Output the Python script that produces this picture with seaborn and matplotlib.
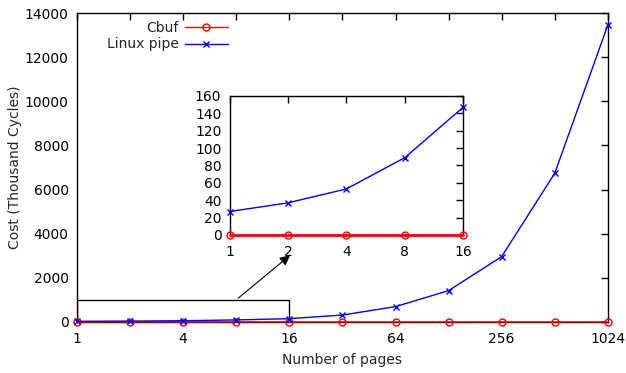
import numpy as np
import pandas as pd
import matplotlib
matplotlib.use("Agg")
import matplotlib.pyplot as plt
import seaborn as sns
from matplotlib.ticker import FixedLocator, FixedFormatter, NullLocator
from matplotlib.patches import Rectangle

# data (thousand cycles)
pages = [1, 2, 4, 8, 16, 32, 64, 128, 256, 512, 1024]
cbuf = [0.3, 0.3, 0.3, 0.3, 0.3, 0.4, 0.4, 0.5, 0.6, 0.8, 1.0]
linux_pipe = [27, 37, 53, 89, 147, 310, 693, 1418, 2960, 6740, 13460]

main_ticks = [1, 2, 4, 8, 16, 32, 64, 128, 256, 512, 1024]
main_labels = ["1", "", "4", "", "16", "", "64", "", "256", "", "1024"]
inset_ticks = [1, 2, 4, 8, 16]
inset_labels = ["1", "2", "4", "8", "16"]

df = pd.DataFrame({"pages": pages, "Cbuf": cbuf, "Linux pipe": linux_pipe})
df_small = df[df["pages"] <= 16]

sns.set_theme(style="white")
plt.rcParams["font.family"] = ["DejaVu Sans"]
plt.rcParams["axes.edgecolor"] = "black"
plt.rcParams["axes.linewidth"] = 1.0

fig = plt.figure(figsize=(6.26, 3.73), dpi=100)
ax = fig.add_axes([0.123, 0.137, 0.848, 0.828])

red_kw = dict(color="red", marker="o", markerfacecolor="none",
              markeredgecolor="red", markersize=5, markeredgewidth=1,
              clip_on=False, zorder=3)
blue_kw = dict(color="blue", marker="x", markeredgecolor="blue",
               markersize=5, markeredgewidth=1, linewidth=1,
               clip_on=False, zorder=4)

sns.lineplot(data=df, x="pages", y="Cbuf", ax=ax, linewidth=1, label="Cbuf",
             **red_kw)
sns.lineplot(data=df, x="pages", y="Linux pipe", ax=ax, label="Linux pipe",
             **blue_kw)

ax.set_xscale("log", base=2)
ax.set_xlim(1, 1024)
ax.set_ylim(0, 14000)
ax.xaxis.set_major_locator(FixedLocator(main_ticks))
ax.xaxis.set_major_formatter(FixedFormatter(main_labels))
ax.xaxis.set_minor_locator(NullLocator())
ax.set_yticks(np.arange(0, 14001, 2000))
ax.tick_params(direction="in", length=5, width=1, top=True, right=True,
               labelsize=10, colors="black", pad=6)
ax.tick_params(axis="x", pad=7)
ax.set_xlabel("Number of pages", fontsize=10, labelpad=5)
ax.set_ylabel("Cost (Thousand Cycles)", fontsize=10, labelpad=2)

leg = ax.legend(loc="upper left", bbox_to_anchor=(0.028, 1.007), frameon=False,
                markerfirst=False, fontsize=10, handlelength=3.1,
                handletextpad=0.8, borderaxespad=0.3, labelspacing=0.2)
for t in leg.get_texts():
    t.set_ha("right")
    t.set_position((5, 0))

# zoom box and arrow
ax.add_patch(Rectangle((1, 0), 15, 1000, fill=False, edgecolor="black",
                       linewidth=1, zorder=1))
ax.annotate("", xy=(16.6, 3100), xytext=(8, 1000),
            arrowprops=dict(arrowstyle="-|>", color="black", lw=0.8,
                            mutation_scale=15))

# inset
ins = fig.add_axes([0.367, 0.370, 0.373, 0.373])
sns.lineplot(data=df_small, x="pages", y="Cbuf", ax=ins, linewidth=2,
             legend=False, **red_kw)
sns.lineplot(data=df_small, x="pages", y="Linux pipe", ax=ins, legend=False,
             **blue_kw)
ins.set_xscale("log", base=2)
ins.set_xlim(1, 16)
ins.set_ylim(0, 160)
ins.xaxis.set_major_locator(FixedLocator(inset_ticks))
ins.xaxis.set_major_formatter(FixedFormatter(inset_labels))
ins.xaxis.set_minor_locator(NullLocator())
ins.set_yticks(np.arange(0, 161, 20))
ins.tick_params(direction="in", length=5, width=1, top=True, right=True,
                labelsize=10, colors="black", pad=6)
ins.tick_params(axis="x", pad=7)
ins.set_xlabel("")
ins.set_ylabel("")
for a in (ax, ins):
    for s in a.spines.values():
        s.set_color("black")
        s.set_linewidth(1)

fig.savefig("out.png", dpi=100)
